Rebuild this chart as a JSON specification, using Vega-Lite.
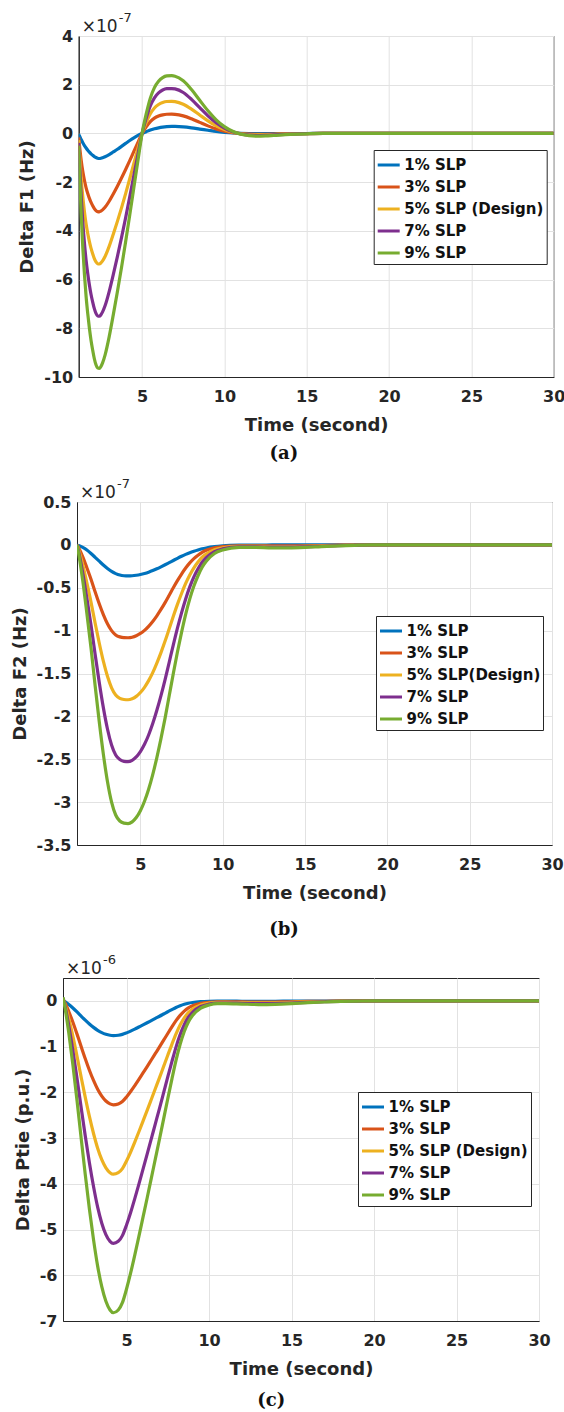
{
  "$schema": "https://vega.github.io/schema/vega-lite/v6.json",
  "background": "white",
  "padding": {"left": 10, "top": 11, "right": 0, "bottom": 0},
  "spacing": 14,
  "resolve": {"scale": {"color": "independent"}, "legend": {"color": "independent"}},
  "config": {
    "view": {"stroke": "#262626", "strokeWidth": 1},
    "axis": {
      "labelFont": "DejaVu Sans", "labelFontSize": 16, "labelFontWeight": "bold", "labelColor": "#262626",
      "titleFont": "DejaVu Sans", "titleFontSize": 18, "titleFontWeight": "bold", "titleColor": "#262626",
      "domainColor": "#262626", "ticks": false, "gridColor": "#e2e2e2", "gridOpacity": 1,
      "labelPadding": 6, "titlePadding": 7, "labelOverlap": false
    },
    "axisX": {"labelPadding": 11, "titlePadding": 12, "labelFlush": false},
    "legend": {
      "orient": "none", "symbolType": "stroke", "symbolStrokeWidth": 3, "symbolSize": 484,
      "labelFont": "DejaVu Sans", "labelFontSize": 15, "labelFontWeight": "bold", "labelColor": "#111111",
      "strokeColor": "#262626", "fillColor": "white", "padding": 2.5, "rowPadding": 1, "labelOffset": 3, "labelLimit": 200
    },
    "title": {"font": "DejaVu Serif", "fontSize": 18, "fontWeight": "bold", "color": "#111111", "orient": "bottom", "anchor": "middle", "frame": "bounds"}
  },
  "datasets": {
    "mult7": [{"m": "×10", "e": "-7"}],
    "mult6": [{"m": "×10", "e": "-6"}],
    "a": [
      {"t":1.15,"s1":-0.03,"s3":-0.167,"s5":-0.278,"s7":-0.389,"s9":-0.5},
      {"t":1.2,"s1":-0.1,"s3":-0.5,"s5":-0.833,"s7":-1.167,"s9":-1.5},
      {"t":1.3,"s1":-0.25,"s3":-1.1,"s5":-1.833,"s7":-2.567,"s9":-3.3},
      {"t":1.4,"s1":-0.38,"s3":-1.567,"s5":-2.611,"s7":-3.656,"s9":-4.7},
      {"t":1.5,"s1":-0.5,"s3":-1.933,"s5":-3.222,"s7":-4.511,"s9":-5.8},
      {"t":1.6,"s1":-0.6,"s3":-2.233,"s5":-3.722,"s7":-5.211,"s9":-6.7},
      {"t":1.7,"s1":-0.69,"s3":-2.467,"s5":-4.111,"s7":-5.756,"s9":-7.4},
      {"t":1.8,"s1":-0.77,"s3":-2.667,"s5":-4.444,"s7":-6.222,"s9":-8.0},
      {"t":1.9,"s1":-0.84,"s3":-2.833,"s5":-4.722,"s7":-6.611,"s9":-8.5},
      {"t":2.0,"s1":-0.9,"s3":-2.967,"s5":-4.944,"s7":-6.922,"s9":-8.9},
      {"t":2.1,"s1":-0.95,"s3":-3.083,"s5":-5.139,"s7":-7.194,"s9":-9.25},
      {"t":2.2,"s1":-0.99,"s3":-3.167,"s5":-5.278,"s7":-7.389,"s9":-9.5},
      {"t":2.3,"s1":-1.02,"s3":-3.21,"s5":-5.35,"s7":-7.49,"s9":-9.63},
      {"t":2.4,"s1":-1.03,"s3":-3.217,"s5":-5.361,"s7":-7.506,"s9":-9.65},
      {"t":2.5,"s1":-1.02,"s3":-3.19,"s5":-5.317,"s7":-7.443,"s9":-9.57},
      {"t":2.6,"s1":-1.0,"s3":-3.14,"s5":-5.233,"s7":-7.327,"s9":-9.42},
      {"t":2.75,"s1":-0.96,"s3":-3.033,"s5":-5.056,"s7":-7.078,"s9":-9.1},
      {"t":3.0,"s1":-0.87,"s3":-2.783,"s5":-4.639,"s7":-6.494,"s9":-8.35},
      {"t":3.25,"s1":-0.76,"s3":-2.483,"s5":-4.139,"s7":-5.794,"s9":-7.45},
      {"t":3.5,"s1":-0.65,"s3":-2.167,"s5":-3.611,"s7":-5.056,"s9":-6.5},
      {"t":3.75,"s1":-0.53,"s3":-1.833,"s5":-3.056,"s7":-4.278,"s9":-5.5},
      {"t":4.0,"s1":-0.41,"s3":-1.483,"s5":-2.472,"s7":-3.461,"s9":-4.45},
      {"t":4.25,"s1":-0.29,"s3":-1.117,"s5":-1.861,"s7":-2.606,"s9":-3.35},
      {"t":4.5,"s1":-0.18,"s3":-0.74,"s5":-1.233,"s7":-1.727,"s9":-2.22},
      {"t":4.75,"s1":-0.08,"s3":-0.367,"s5":-0.611,"s7":-0.856,"s9":-1.1},
      {"t":5.0,"s1":0,"s3":0,"s5":0,"s7":0,"s9":0},
      {"t":5.25,"s1":0.07,"s3":0.267,"s5":0.444,"s7":0.622,"s9":0.8},
      {"t":5.5,"s1":0.14,"s3":0.483,"s5":0.806,"s7":1.128,"s9":1.45},
      {"t":5.75,"s1":0.19,"s3":0.627,"s5":1.044,"s7":1.462,"s9":1.88},
      {"t":6.0,"s1":0.23,"s3":0.713,"s5":1.189,"s7":1.664,"s9":2.14},
      {"t":6.25,"s1":0.26,"s3":0.763,"s5":1.272,"s7":1.781,"s9":2.29},
      {"t":6.5,"s1":0.28,"s3":0.787,"s5":1.311,"s7":1.836,"s9":2.36},
      {"t":6.8,"s1":0.29,"s3":0.79,"s5":1.317,"s7":1.843,"s9":2.37},
      {"t":7.0,"s1":0.29,"s3":0.783,"s5":1.306,"s7":1.828,"s9":2.35},
      {"t":7.5,"s1":0.27,"s3":0.72,"s5":1.2,"s7":1.68,"s9":2.16},
      {"t":8.0,"s1":0.23,"s3":0.6,"s5":1.0,"s7":1.4,"s9":1.8},
      {"t":8.5,"s1":0.18,"s3":0.453,"s5":0.756,"s7":1.058,"s9":1.36},
      {"t":9.0,"s1":0.13,"s3":0.31,"s5":0.517,"s7":0.723,"s9":0.93},
      {"t":9.5,"s1":0.08,"s3":0.187,"s5":0.311,"s7":0.436,"s9":0.56},
      {"t":10.0,"s1":0.045,"s3":0.093,"s5":0.156,"s7":0.218,"s9":0.28},
      {"t":10.5,"s1":0.02,"s3":0.03,"s5":0.05,"s7":0.07,"s9":0.09},
      {"t":11.0,"s1":0.005,"s3":-0.01,"s5":-0.017,"s7":-0.023,"s9":-0.03},
      {"t":11.5,"s1":-0.003,"s3":-0.03,"s5":-0.05,"s7":-0.07,"s9":-0.09},
      {"t":12.0,"s1":-0.006,"s3":-0.037,"s5":-0.061,"s7":-0.086,"s9":-0.11},
      {"t":12.5,"s1":-0.008,"s3":-0.033,"s5":-0.056,"s7":-0.078,"s9":-0.1},
      {"t":13.0,"s1":-0.007,"s3":-0.027,"s5":-0.044,"s7":-0.062,"s9":-0.08},
      {"t":14.0,"s1":-0.004,"s3":-0.013,"s5":-0.022,"s7":-0.031,"s9":-0.04},
      {"t":15.0,"s1":-0.002,"s3":-0.005,"s5":-0.008,"s7":-0.012,"s9":-0.015},
      {"t":16.0,"s1":0,"s3":0,"s5":0,"s7":0,"s9":0},
      {"t":20.0,"s1":0,"s3":0,"s5":0,"s7":0,"s9":0},
      {"t":25.0,"s1":0,"s3":0,"s5":0,"s7":0,"s9":0},
      {"t":30.0,"s1":0,"s3":0,"s5":0,"s7":0,"s9":0}
    ],
    "b": [
      {"t":1.15,"s1":0,"s3":0,"s5":0,"s7":0,"s9":0},
      {"t":1.25,"s1":-0.008,"s3":-0.033,"s5":-0.056,"s7":-0.078,"s9":-0.1},
      {"t":1.5,"s1":-0.03,"s3":-0.14,"s5":-0.233,"s7":-0.327,"s9":-0.42},
      {"t":1.75,"s1":-0.06,"s3":-0.267,"s5":-0.444,"s7":-0.622,"s9":-0.8},
      {"t":2.0,"s1":-0.1,"s3":-0.4,"s5":-0.667,"s7":-0.933,"s9":-1.2},
      {"t":2.25,"s1":-0.145,"s3":-0.547,"s5":-0.911,"s7":-1.276,"s9":-1.64},
      {"t":2.5,"s1":-0.19,"s3":-0.687,"s5":-1.144,"s7":-1.602,"s9":-2.06},
      {"t":2.75,"s1":-0.235,"s3":-0.813,"s5":-1.356,"s7":-1.898,"s9":-2.44},
      {"t":3.0,"s1":-0.275,"s3":-0.92,"s5":-1.533,"s7":-2.147,"s9":-2.76},
      {"t":3.25,"s1":-0.31,"s3":-1.0,"s5":-1.667,"s7":-2.333,"s9":-3.0},
      {"t":3.5,"s1":-0.335,"s3":-1.05,"s5":-1.75,"s7":-2.45,"s9":-3.15},
      {"t":3.75,"s1":-0.352,"s3":-1.073,"s5":-1.789,"s7":-2.504,"s9":-3.22},
      {"t":4.0,"s1":-0.36,"s3":-1.082,"s5":-1.803,"s7":-2.524,"s9":-3.245},
      {"t":4.25,"s1":-0.362,"s3":-1.083,"s5":-1.806,"s7":-2.528,"s9":-3.25},
      {"t":4.5,"s1":-0.36,"s3":-1.077,"s5":-1.794,"s7":-2.512,"s9":-3.23},
      {"t":4.75,"s1":-0.354,"s3":-1.06,"s5":-1.767,"s7":-2.473,"s9":-3.18},
      {"t":5.0,"s1":-0.345,"s3":-1.033,"s5":-1.722,"s7":-2.411,"s9":-3.1},
      {"t":5.25,"s1":-0.333,"s3":-0.997,"s5":-1.661,"s7":-2.326,"s9":-2.99},
      {"t":5.5,"s1":-0.318,"s3":-0.95,"s5":-1.583,"s7":-2.217,"s9":-2.85},
      {"t":5.75,"s1":-0.3,"s3":-0.893,"s5":-1.489,"s7":-2.084,"s9":-2.68},
      {"t":6.0,"s1":-0.279,"s3":-0.827,"s5":-1.378,"s7":-1.929,"s9":-2.48},
      {"t":6.25,"s1":-0.256,"s3":-0.753,"s5":-1.256,"s7":-1.758,"s9":-2.26},
      {"t":6.5,"s1":-0.232,"s3":-0.673,"s5":-1.122,"s7":-1.571,"s9":-2.02},
      {"t":6.75,"s1":-0.207,"s3":-0.587,"s5":-0.978,"s7":-1.369,"s9":-1.76},
      {"t":7.0,"s1":-0.182,"s3":-0.5,"s5":-0.833,"s7":-1.167,"s9":-1.5},
      {"t":7.25,"s1":-0.157,"s3":-0.417,"s5":-0.694,"s7":-0.972,"s9":-1.25},
      {"t":7.5,"s1":-0.133,"s3":-0.34,"s5":-0.567,"s7":-0.793,"s9":-1.02},
      {"t":7.75,"s1":-0.111,"s3":-0.27,"s5":-0.45,"s7":-0.63,"s9":-0.81},
      {"t":8.0,"s1":-0.091,"s3":-0.21,"s5":-0.35,"s7":-0.49,"s9":-0.63},
      {"t":8.25,"s1":-0.074,"s3":-0.16,"s5":-0.267,"s7":-0.373,"s9":-0.48},
      {"t":8.5,"s1":-0.059,"s3":-0.12,"s5":-0.2,"s7":-0.28,"s9":-0.36},
      {"t":8.75,"s1":-0.046,"s3":-0.087,"s5":-0.144,"s7":-0.202,"s9":-0.26},
      {"t":9.0,"s1":-0.036,"s3":-0.063,"s5":-0.106,"s7":-0.148,"s9":-0.19},
      {"t":9.5,"s1":-0.021,"s3":-0.033,"s5":-0.056,"s7":-0.078,"s9":-0.1},
      {"t":10.0,"s1":-0.012,"s3":-0.02,"s5":-0.033,"s7":-0.047,"s9":-0.06},
      {"t":11.0,"s1":-0.004,"s3":-0.01,"s5":-0.017,"s7":-0.023,"s9":-0.03},
      {"t":12.0,"s1":-0.002,"s3":-0.01,"s5":-0.017,"s7":-0.023,"s9":-0.03},
      {"t":13.0,"s1":-0.001,"s3":-0.012,"s5":-0.019,"s7":-0.027,"s9":-0.035},
      {"t":14.0,"s1":0,"s3":-0.012,"s5":-0.019,"s7":-0.027,"s9":-0.035},
      {"t":15.0,"s1":0,"s3":-0.01,"s5":-0.017,"s7":-0.023,"s9":-0.03},
      {"t":16.0,"s1":0,"s3":-0.007,"s5":-0.011,"s7":-0.016,"s9":-0.02},
      {"t":17.0,"s1":0,"s3":-0.004,"s5":-0.007,"s7":-0.009,"s9":-0.012},
      {"t":18.0,"s1":0,"s3":-0.002,"s5":-0.003,"s7":-0.004,"s9":-0.005},
      {"t":19.0,"s1":0,"s3":0,"s5":0,"s7":0,"s9":0},
      {"t":25.0,"s1":0,"s3":0,"s5":0,"s7":0,"s9":0},
      {"t":30.0,"s1":0,"s3":0,"s5":0,"s7":0,"s9":0}
    ],
    "c": [
      {"t":1.15,"s1":0.009,"s3":0.027,"s5":0.044,"s7":0.062,"s9":0.08},
      {"t":1.25,"s1":-0.011,"s3":-0.033,"s5":-0.056,"s7":-0.078,"s9":-0.1},
      {"t":1.5,"s1":-0.078,"s3":-0.233,"s5":-0.389,"s7":-0.544,"s9":-0.7},
      {"t":1.75,"s1":-0.156,"s3":-0.467,"s5":-0.778,"s7":-1.089,"s9":-1.4},
      {"t":2.0,"s1":-0.242,"s3":-0.727,"s5":-1.211,"s7":-1.696,"s9":-2.18},
      {"t":2.25,"s1":-0.333,"s3":-1.0,"s5":-1.667,"s7":-2.333,"s9":-3.0},
      {"t":2.5,"s1":-0.422,"s3":-1.267,"s5":-2.111,"s7":-2.956,"s9":-3.8},
      {"t":2.75,"s1":-0.506,"s3":-1.517,"s5":-2.528,"s7":-3.539,"s9":-4.55},
      {"t":3.0,"s1":-0.58,"s3":-1.74,"s5":-2.9,"s7":-4.06,"s9":-5.22},
      {"t":3.25,"s1":-0.644,"s3":-1.933,"s5":-3.222,"s7":-4.511,"s9":-5.8},
      {"t":3.5,"s1":-0.694,"s3":-2.083,"s5":-3.472,"s7":-4.861,"s9":-6.25},
      {"t":3.75,"s1":-0.73,"s3":-2.19,"s5":-3.65,"s7":-5.11,"s9":-6.57},
      {"t":4.0,"s1":-0.751,"s3":-2.253,"s5":-3.756,"s7":-5.258,"s9":-6.76},
      {"t":4.2,"s1":-0.758,"s3":-2.273,"s5":-3.789,"s7":-5.304,"s9":-6.82},
      {"t":4.5,"s1":-0.751,"s3":-2.253,"s5":-3.756,"s7":-5.258,"s9":-6.76},
      {"t":4.75,"s1":-0.733,"s3":-2.2,"s5":-3.667,"s7":-5.133,"s9":-6.6},
      {"t":5.0,"s1":-0.7,"s3":-2.1,"s5":-3.5,"s7":-4.9,"s9":-6.3},
      {"t":5.25,"s1":-0.661,"s3":-1.983,"s5":-3.306,"s7":-4.628,"s9":-5.95},
      {"t":5.5,"s1":-0.618,"s3":-1.853,"s5":-3.089,"s7":-4.324,"s9":-5.56},
      {"t":5.75,"s1":-0.572,"s3":-1.717,"s5":-2.861,"s7":-4.006,"s9":-5.15},
      {"t":6.0,"s1":-0.526,"s3":-1.577,"s5":-2.628,"s7":-3.679,"s9":-4.73},
      {"t":6.25,"s1":-0.479,"s3":-1.437,"s5":-2.394,"s7":-3.352,"s9":-4.31},
      {"t":6.5,"s1":-0.431,"s3":-1.293,"s5":-2.156,"s7":-3.018,"s9":-3.88},
      {"t":6.75,"s1":-0.383,"s3":-1.15,"s5":-1.917,"s7":-2.683,"s9":-3.45},
      {"t":7.0,"s1":-0.336,"s3":-1.007,"s5":-1.678,"s7":-2.349,"s9":-3.02},
      {"t":7.25,"s1":-0.287,"s3":-0.86,"s5":-1.433,"s7":-2.007,"s9":-2.58},
      {"t":7.5,"s1":-0.238,"s3":-0.713,"s5":-1.189,"s7":-1.664,"s9":-2.14},
      {"t":7.75,"s1":-0.19,"s3":-0.57,"s5":-0.95,"s7":-1.33,"s9":-1.71},
      {"t":8.0,"s1":-0.144,"s3":-0.433,"s5":-0.722,"s7":-1.011,"s9":-1.3},
      {"t":8.25,"s1":-0.106,"s3":-0.317,"s5":-0.528,"s7":-0.739,"s9":-0.95},
      {"t":8.5,"s1":-0.074,"s3":-0.223,"s5":-0.372,"s7":-0.521,"s9":-0.67},
      {"t":8.75,"s1":-0.051,"s3":-0.153,"s5":-0.256,"s7":-0.358,"s9":-0.46},
      {"t":9.0,"s1":-0.036,"s3":-0.107,"s5":-0.178,"s7":-0.249,"s9":-0.32},
      {"t":9.5,"s1":-0.018,"s3":-0.053,"s5":-0.089,"s7":-0.124,"s9":-0.16},
      {"t":10.0,"s1":-0.01,"s3":-0.03,"s5":-0.05,"s7":-0.07,"s9":-0.09},
      {"t":10.5,"s1":-0.007,"s3":-0.02,"s5":-0.033,"s7":-0.047,"s9":-0.06},
      {"t":11.0,"s1":-0.007,"s3":-0.02,"s5":-0.033,"s7":-0.047,"s9":-0.06},
      {"t":12.0,"s1":-0.008,"s3":-0.023,"s5":-0.039,"s7":-0.054,"s9":-0.07},
      {"t":13.0,"s1":-0.009,"s3":-0.027,"s5":-0.044,"s7":-0.062,"s9":-0.08},
      {"t":14.0,"s1":-0.008,"s3":-0.025,"s5":-0.042,"s7":-0.058,"s9":-0.075},
      {"t":15.0,"s1":-0.007,"s3":-0.02,"s5":-0.033,"s7":-0.047,"s9":-0.06},
      {"t":16.0,"s1":-0.004,"s3":-0.013,"s5":-0.022,"s7":-0.031,"s9":-0.04},
      {"t":17.0,"s1":-0.003,"s3":-0.008,"s5":-0.014,"s7":-0.019,"s9":-0.025},
      {"t":18.0,"s1":-0.001,"s3":-0.004,"s5":-0.007,"s7":-0.009,"s9":-0.012},
      {"t":19.0,"s1":-0.001,"s3":-0.002,"s5":-0.003,"s7":-0.004,"s9":-0.005},
      {"t":20.0,"s1":0,"s3":0,"s5":0,"s7":0,"s9":0},
      {"t":25.0,"s1":0,"s3":0,"s5":0,"s7":0,"s9":0},
      {"t":30.0,"s1":0,"s3":0,"s5":0,"s7":0,"s9":0}
    ]
  },
  "vconcat": [
    {
      "title": {"text": "(a)", "offset": 10, "dx": -8},
      "bounds": "flush",
      "spacing": 14.7,
      "resolve": {"scale": {"color": "independent"}, "legend": {"color": "independent"}},
      "hconcat": [
        {"width": 1, "height": 1, "view": {"stroke": null}, "data": {"values": []}, "mark": {"type": "point", "opacity": 0}, "encoding": {}},
        {
          "width": 475, "height": 341,
          "layer": [
            {
              "data": {"name": "a"},
              "transform": [{"fold": ["s1", "s3", "s5", "s7", "s9"], "as": ["series", "v"]}],
              "mark": {"type": "line", "strokeWidth": 3.2, "interpolate": "monotone", "clip": true},
              "encoding": {
                "x": {"field": "t", "type": "quantitative", "scale": {"domain": [1.15, 30], "nice": false, "zero": false},
                      "axis": {"values": [5, 10, 15, 20, 25, 30], "title": "Time (second)"}},
                "y": {"field": "v", "type": "quantitative", "scale": {"domain": [-10, 4], "nice": false, "zero": false},
                      "axis": {"values": [-10, -8, -6, -4, -2, 0, 2, 4], "title": "Delta F1 (Hz)",
                               "labelExpr": "datum.value < 0 ? '-' + format(-datum.value, '~g') : format(datum.value, '~g')"}},
                "color": {"field": "series", "type": "nominal",
                          "scale": {"domain": ["s1", "s3", "s5", "s7", "s9"], "range": ["#0072BD", "#D95319", "#EDB120", "#7E2F8E", "#77AC30"]},
                          "legend": {"title": null, "orient": "none", "legendX": 295, "legendY": 114,
                                     "labelExpr": "datum.label == 's1' ? '1% SLP' : datum.label == 's3' ? '3% SLP' : datum.label == 's5' ? '5% SLP (Design)' : datum.label == 's7' ? '7% SLP' : '9% SLP'"}}
              }
            },
            {
              "data": {"name": "mult7"},
              "mark": {"type": "text", "align": "left", "baseline": "alphabetic", "dx": 3, "dy": -4, "font": "DejaVu Sans", "fontSize": 17, "color": "#262626"},
              "encoding": {"x": {"datum": 1.15, "type": "quantitative"}, "y": {"datum": 4, "type": "quantitative"}, "text": {"field": "m"}}
            },
            {
              "data": {"name": "mult7"},
              "mark": {"type": "text", "align": "left", "baseline": "alphabetic", "dx": 40, "dy": -14.5, "font": "DejaVu Sans", "fontSize": 13, "color": "#262626"},
              "encoding": {"x": {"datum": 1.15, "type": "quantitative"}, "y": {"datum": 4, "type": "quantitative"}, "text": {"field": "e"}}
            }
          ]
        }
      ]
    },
    {
      "title": {"text": "(b)", "offset": 18, "dx": -3},
      "bounds": "flush",
      "spacing": 13,
      "resolve": {"scale": {"color": "independent"}, "legend": {"color": "independent"}},
      "hconcat": [
        {"width": 1, "height": 1, "view": {"stroke": null}, "data": {"values": []}, "mark": {"type": "point", "opacity": 0}, "encoding": {}},
        {
          "width": 475, "height": 343,
          "layer": [
            {
              "data": {"name": "b"},
              "transform": [{"fold": ["s1", "s3", "s5", "s7", "s9"], "as": ["series", "v"]}],
              "mark": {"type": "line", "strokeWidth": 3.2, "interpolate": "monotone", "clip": true},
              "encoding": {
                "x": {"field": "t", "type": "quantitative", "scale": {"domain": [1.15, 30], "nice": false, "zero": false},
                      "axis": {"values": [5, 10, 15, 20, 25, 30], "title": "Time (second)"}},
                "y": {"field": "v", "type": "quantitative", "scale": {"domain": [-3.5, 0.5], "nice": false, "zero": false},
                      "axis": {"values": [-3.5, -3, -2.5, -2, -1.5, -1, -0.5, 0, 0.5], "title": "Delta F2 (Hz)",
                               "labelExpr": "datum.value < 0 ? '-' + format(-datum.value, '~g') : format(datum.value, '~g')"}},
                "color": {"field": "series", "type": "nominal",
                          "scale": {"domain": ["s1", "s3", "s5", "s7", "s9"], "range": ["#0072BD", "#D95319", "#EDB120", "#7E2F8E", "#77AC30"]},
                          "legend": {"title": null, "orient": "none", "legendX": 299, "legendY": 114,
                                     "labelExpr": "datum.label == 's1' ? '1% SLP' : datum.label == 's3' ? '3% SLP' : datum.label == 's5' ? '5% SLP(Design)' : datum.label == 's7' ? '7% SLP' : '9% SLP'"}}
              }
            },
            {
              "data": {"name": "mult7"},
              "mark": {"type": "text", "align": "left", "baseline": "alphabetic", "dx": 3, "dy": -4, "font": "DejaVu Sans", "fontSize": 17, "color": "#262626"},
              "encoding": {"x": {"datum": 1.15, "type": "quantitative"}, "y": {"datum": 0.5, "type": "quantitative"}, "text": {"field": "m"}}
            },
            {
              "data": {"name": "mult7"},
              "mark": {"type": "text", "align": "left", "baseline": "alphabetic", "dx": 40, "dy": -14.5, "font": "DejaVu Sans", "fontSize": 13, "color": "#262626"},
              "encoding": {"x": {"datum": 1.15, "type": "quantitative"}, "y": {"datum": 0.5, "type": "quantitative"}, "text": {"field": "e"}}
            }
          ]
        }
      ]
    },
    {
      "title": {"text": "(c)", "offset": 13, "dx": -11},
      "resolve": {"scale": {"color": "independent"}, "legend": {"color": "independent"}},
      "vconcat": [
        {
          "width": 476, "height": 343,
          "layer": [
            {
              "data": {"name": "c"},
              "transform": [{"fold": ["s1", "s3", "s5", "s7", "s9"], "as": ["series", "v"]}],
              "mark": {"type": "line", "strokeWidth": 3.2, "interpolate": "monotone", "clip": true},
              "encoding": {
                "x": {"field": "t", "type": "quantitative", "scale": {"domain": [1.15, 30], "nice": false, "zero": false},
                      "axis": {"values": [5, 10, 15, 20, 25, 30], "title": "Time (second)"}},
                "y": {"field": "v", "type": "quantitative", "scale": {"domain": [-7, 0.5], "nice": false, "zero": false},
                      "axis": {"values": [-7, -6, -5, -4, -3, -2, -1, 0], "title": "Delta Ptie (p.u.)",
                               "labelExpr": "datum.value < 0 ? '-' + format(-datum.value, '~g') : format(datum.value, '~g')"}},
                "color": {"field": "series", "type": "nominal",
                          "scale": {"domain": ["s1", "s3", "s5", "s7", "s9"], "range": ["#0072BD", "#D95319", "#EDB120", "#7E2F8E", "#77AC30"]},
                          "legend": {"title": null, "orient": "none", "legendX": 295, "legendY": 114,
                                     "labelExpr": "datum.label == 's1' ? '1% SLP' : datum.label == 's3' ? '3% SLP' : datum.label == 's5' ? '5% SLP (Design)' : datum.label == 's7' ? '7% SLP' : '9% SLP'"}}
              }
            },
            {
              "data": {"name": "mult6"},
              "mark": {"type": "text", "align": "left", "baseline": "alphabetic", "dx": 3, "dy": -4, "font": "DejaVu Sans", "fontSize": 17, "color": "#262626"},
              "encoding": {"x": {"datum": 1.15, "type": "quantitative"}, "y": {"datum": 0.5, "type": "quantitative"}, "text": {"field": "m"}}
            },
            {
              "data": {"name": "mult6"},
              "mark": {"type": "text", "align": "left", "baseline": "alphabetic", "dx": 40, "dy": -14.5, "font": "DejaVu Sans", "fontSize": 13, "color": "#262626"},
              "encoding": {"x": {"datum": 1.15, "type": "quantitative"}, "y": {"datum": 0.5, "type": "quantitative"}, "text": {"field": "e"}}
            }
          ]
        }
      ]
    }
  ]
}
